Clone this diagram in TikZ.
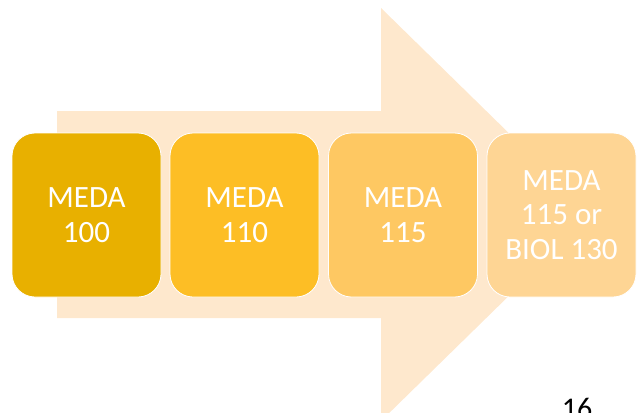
\documentclass[tikz,border=0pt]{standalone}
\usepackage{fontspec}
\setmainfont{Carlito}
\definecolor{arrowc}{HTML}{FEE8CD}
\definecolor{cA}{HTML}{E8B000}
\definecolor{cB}{HTML}{FDBE25}
\definecolor{cC}{HTML}{FEC862}
\definecolor{cD}{HTML}{FED594}
\begin{document}
\begin{tikzpicture}[x=1pt,y=-1pt,
  course/.style={draw=white, line width=0.8pt, rounded corners=23pt, minimum width=149pt, minimum height=164pt, text=white, align=center, font=\fontsize{31}{34.5}\selectfont, inner sep=0pt}]
\useasboundingbox (0,0) rectangle (639,412);
\fill[arrowc] (57,111) -- (381,111) -- (381,8) -- (592,214.5) -- (381,421) -- (381,318) -- (57,318) -- cycle;
\node[course, fill=cA] (a) at (86.5,215) {MEDA\\100};
\node[course, fill=cB] (b) at (244.5,215) {MEDA\\110};
\node[course, fill=cC] (c) at (403,215) {MEDA\\115};
\node[course, fill=cD] (d) at (561.5,215) {MEDA\\115 or\\BIOL 130};
\node[anchor=base, font=\fontsize{30}{34}\selectfont, inner sep=0pt] (p) at (577,418) {16};
\end{tikzpicture}
\end{document}
